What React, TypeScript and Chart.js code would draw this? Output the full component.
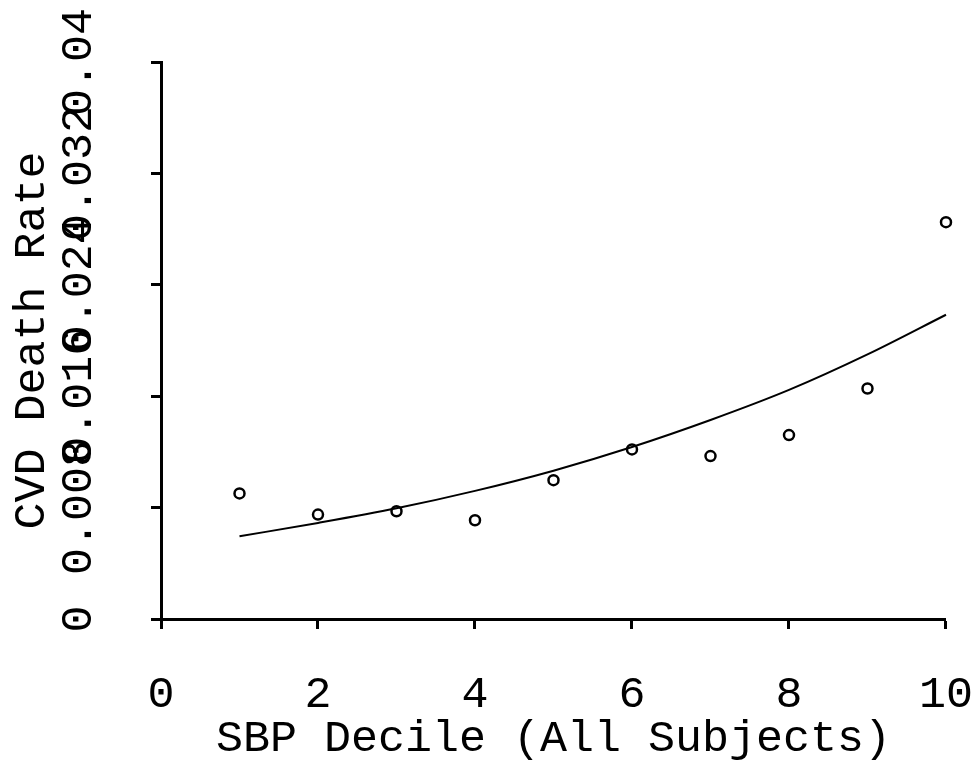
import { useEffect, useRef } from 'react';
import { Chart, registerables } from 'chart.js';

Chart.register(...registerables);

const deciles = [1, 2, 3, 4, 5, 6, 7, 8, 9, 10];
const observedRate = [0.00902, 0.0075, 0.00774, 0.00709, 0.00997, 0.01218, 0.0117, 0.01321, 0.01655, 0.0285];
const fittedRate = [0.00594, 0.0069, 0.00795, 0.0092, 0.01065, 0.01235, 0.01429, 0.01645, 0.019, 0.02185];

const xTickValues = [0, 2, 4, 6, 8, 10];
const xTickLabels = ['0', '2', '4', '6', '8', '10'];
const yTickValues = [0, 0.008, 0.016, 0.024, 0.032, 0.04];
const yTickLabels = ['0', '0.008', '0.016', '0.024', '0.032', '0.04'];

const xTitle = 'SBP Decile (All Subjects)';
const yTitle = 'CVD Death Rate';

const FONT = '"Liberation Mono", "DejaVu Sans Mono", monospace';
const FONT_SIZE = 45;

export default function App() {
  const ref = useRef<HTMLCanvasElement | null>(null);

  useEffect(() => {
    document.body.style.margin = '0';
    const canvas = ref.current;
    if (!canvas) return;

    const mctx = document.createElement('canvas').getContext('2d')!;
    mctx.font = `${FONT_SIZE}px ${FONT}`;
    const widest = Math.max(...yTickLabels.map((l) => mctx.measureText(l).width));
    const yPad = 161 - 10 - widest / 2 - 79;

    const tickGrid = {
      display: true,
      drawOnChartArea: false,
      drawTicks: true,
      tickLength: 10,
      tickWidth: 3,
      tickColor: '#000',
    };
    const border = { display: true, color: '#000', width: 3 };

    const chart = new Chart(canvas, {
      type: 'scatter',
      data: {
        datasets: [
          {
            label: 'Fitted',
            data: deciles.map((x, i) => ({ x, y: fittedRate[i] })),
            showLine: true,
            borderColor: '#000',
            borderWidth: 2,
            pointRadius: 0,
            cubicInterpolationMode: 'monotone',
            fill: false,
            clip: false,
          },
          {
            label: 'Observed',
            data: deciles.map((x, i) => ({ x, y: observedRate[i] })),
            showLine: false,
            pointStyle: 'circle',
            pointRadius: 5,
            borderWidth: 2.5,
            borderColor: '#000',
            backgroundColor: 'rgba(255,255,255,0)',
            clip: false,
          },
        ],
      },
      options: {
        animation: false,
        responsive: false,
        layout: { padding: { top: 62, right: 30, bottom: 0, left: 0 } },
        plugins: {
          legend: { display: false },
          tooltip: { enabled: false },
        },
        scales: {
          x: {
            type: 'linear',
            min: 0,
            max: 10,
            afterBuildTicks: (s: any) => {
              s.ticks = xTickValues.map((v) => ({ value: v }));
            },
            afterFit: (s: any) => {
              s.height = 150;
            },
            ticks: {
              color: '#000',
              font: { family: FONT, size: FONT_SIZE, lineHeight: 2.8 },
              padding: 3,
              minRotation: 0,
              maxRotation: 0,
              autoSkip: false,
              callback: (_v: any, i: number) => xTickLabels[i],
            },
            grid: tickGrid,
            border,
            title: {
              display: true,
              text: xTitle,
              color: '#000',
              font: { family: FONT, size: FONT_SIZE, lineHeight: 1 },
              padding: { top: 0, bottom: 7 },
            },
          },
          y: {
            type: 'linear',
            min: 0,
            max: 0.04,
            afterBuildTicks: (s: any) => {
              s.ticks = yTickValues.map((v) => ({ value: v }));
            },
            afterFit: (s: any) => {
              s.width = 161;
            },
            ticks: {
              color: '#000',
              font: { family: FONT, size: FONT_SIZE, lineHeight: 1.2 },
              padding: yPad,
              minRotation: 90,
              maxRotation: 90,
              crossAlign: 'center',
              autoSkip: false,
              callback: (_v: any, i: number) => yTickLabels[i],
            },
            grid: tickGrid,
            border,
            title: {
              display: true,
              text: yTitle,
              color: '#000',
              font: { family: FONT, size: FONT_SIZE, lineHeight: 1 },
              padding: { top: 9.5, bottom: 0 },
            },
          },
        },
      },
    } as any);

    return () => chart.destroy();
  }, []);

  return (
    <div style={{ width: 976, height: 769 }}>
      <canvas ref={ref} width={976} height={769} style={{ display: 'block' }} />
    </div>
  );
}
